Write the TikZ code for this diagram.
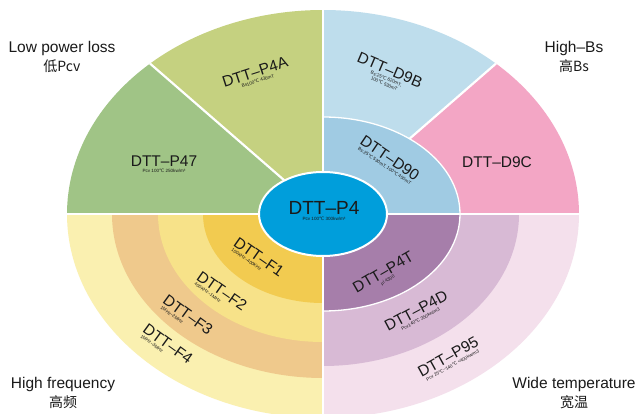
\documentclass[tikz,border=0pt]{standalone}
\usepackage{fontspec}
\setmainfont{Liberation Sans}
\newfontfamily\cjk{Noto Sans CJK SC}
\newfontfamily\dvs{DejaVu Sans}
\newcommand\dC{{\dvs ℃}}
\usetikzlibrary{calc}
\definecolor{cP47}{HTML}{A0C486}
\definecolor{cP4A}{HTML}{C5D180}
\definecolor{cD9B}{HTML}{BEDDEC}
\definecolor{cD9C}{HTML}{F3A6C5}
\definecolor{cD90}{HTML}{A0CBE3}
\definecolor{cP4}{HTML}{009EDB}
\definecolor{cF1}{HTML}{F2CB50}
\definecolor{cF2}{HTML}{F7E289}
\definecolor{cF3}{HTML}{EFC98C}
\definecolor{cF4}{HTML}{FAF0B0}
\definecolor{cP4T}{HTML}{A67EAA}
\definecolor{cP4D}{HTML}{D8BAD5}
\definecolor{cP95}{HTML}{F4E0EC}
\definecolor{ink}{HTML}{1A1A1A}
\begin{document}
\begin{tikzpicture}[x=1pt,y=1pt,
  wline/.style={draw=white,line width=2.2pt},
  warc/.style={draw=white,line width=1.3pt},
  lab/.style={font=\fontsize{15.5}{16}\selectfont,text=ink,inner sep=0pt},
  biglab/.style={font=\fontsize{19}{20}\selectfont,text=ink,inner sep=0pt},
  sub/.style={font=\fontsize{4.6}{5.2}\selectfont,text=ink,inner sep=0.5pt,outer sep=1.6pt,align=center},
  corner/.style={font=\fontsize{15.5}{18}\selectfont,text=ink,align=center,inner sep=0pt},
  cjkl/.style={font=\cjk\fontsize{14}{16}\selectfont,text=ink,inner sep=0pt}]
\useasboundingbox (0,0) rectangle (637,-414);
\fill[white] (0,0) rectangle (637,-414);
\coordinate (C) at (323,-214);
% top-left
\fill[cP4A] (C) -- ++(0,204) arc[start angle=90,end angle=132.5,x radius=256,y radius=204] -- cycle;
\fill[cP47] (C) -- ++(-256,0) arc[start angle=180,end angle=132.5,x radius=256,y radius=204] -- cycle;
% top-right
\fill[cD9B] (C) -- ++(0,204) arc[start angle=90,end angle=47.5,x radius=256,y radius=204] -- cycle;
\fill[cD9C] (C) -- ++(256,0) arc[start angle=0,end angle=47.5,x radius=256,y radius=204] -- cycle;
\coordinate (TL) at ($(C)+({256*cos(132.5)},{204*sin(132.5)})$);
\coordinate (TR) at ($(C)+({256*cos(47.5)},{204*sin(47.5)})$);
\draw[wline] (C) -- (TL);
\draw[wline] (C) -- (TR);
\fill[cD90] (C) -- ++(137,0) arc[start angle=0,end angle=90,x radius=137,y radius=97] -- cycle;
\draw[warc] (C) ++(137,0) arc[start angle=0,end angle=90,x radius=137,y radius=97];
% bottom-left
\fill[cF4] (C) -- ++(-256,0) arc[start angle=180,end angle=270,x radius=256,y radius=204] -- cycle;
\fill[cF3] (C) -- ++(-211,0) arc[start angle=180,end angle=270,x radius=211,y radius=164] -- cycle;
\fill[cF2] (C) -- ++(-165,0) arc[start angle=180,end angle=270,x radius=165,y radius=128] -- cycle;
\fill[cF1] (C) -- ++(-120,0) arc[start angle=180,end angle=270,x radius=120,y radius=89] -- cycle;
% bottom-right
\fill[cP95] (C) -- ++(0,-204) arc[start angle=270,end angle=360,x radius=256,y radius=204] -- cycle;
\fill[cP4D] (C) -- ++(0,-152) arc[start angle=270,end angle=360,x radius=196,y radius=152] -- cycle;
\fill[cP4T] (C) -- ++(0,-97) arc[start angle=270,end angle=360,x radius=137,y radius=97] -- cycle;
\draw[warc] (C) ++(0,-97) arc[start angle=270,end angle=360,x radius=137,y radius=97];
% dividers
\coordinate (L) at ($(C)+(-257,0)$);
\coordinate (R) at ($(C)+(257,0)$);
\coordinate (T) at ($(C)+(0,205)$);
\coordinate (B) at ($(C)+(0,-205)$);
\draw[wline] (L) -- (R);
\draw[draw=white,line width=2.8pt] (T) -- (B);
% centre
\fill[cP4,draw=white,line width=2pt] (C) ellipse[x radius=64,y radius=42];
\node[biglab] (p4) at (324,-208) {DTT–P4};
\node[sub,anchor=north] (p4s) at (p4.south) {Pcv 100\dC{} 300kw/m³};
% labels
\node[lab] (p47) at (164,-161) {DTT–P47};
\node[sub,anchor=north] (p47s) at (p47.south) {Pcv 100\dC{} 250kw/m³};
\node[lab,rotate=18] (p4a) at (255,-72) {DTT–P4A};
\node[sub,rotate=18,anchor=north] (p4as) at (p4a.south) {Bs100\dC{} 430mT};
\node[lab,rotate=-23] (d9b) at (390,-70) {DTT–D9B};
\node[sub,rotate=-23,anchor=north] (d9bs) at (d9b.south) {Bs:25\dC{} 620mT,\\100\dC{} 530mT};
\node[lab,rotate=-34] (d90) at (390,-158) {DTT–D90};
\node[sub,rotate=-34,anchor=north] (d90s) at (d90.south) {Bs:25\dC{} 530mT, 100\dC{} 450mT};
\node[lab] (d9c) at (497,-162) {DTT–D9C};
\node[lab,rotate=-35] (f1) at (259,-257) {DTT–F1};
\node[sub,rotate=-35,anchor=north west] (f1s) at (f1.south west) {100KHz\textasciitilde400KHz};
\node[lab,rotate=-35] (f2) at (222,-291) {DTT–F2};
\node[sub,rotate=-35,anchor=north west] (f2s) at (f2.south west) {400KHz\textasciitilde1MHz};
\node[lab,rotate=-36] (f3) at (188,-315) {DTT–F3};
\node[sub,rotate=-36,anchor=north west] (f3s) at (f3.south west) {1MHz\textasciitilde2MHz};
\node[lab,rotate=-36] (f4) at (168,-344) {DTT–F4};
\node[sub,rotate=-36,anchor=north west] (f4s) at (f4.south west) {1MHz\textasciitilde3MHz};
\node[lab,rotate=30] (p4t) at (383,-272) {DTT–P4T};
\node[sub,rotate=30,anchor=north] (p4ts) at (p4t.south) {μi 4300};
\node[lab,rotate=28] (p4d) at (416,-311) {DTT–P4D};
\node[sub,rotate=28,anchor=north] (p4ds) at (p4d.south) {Pcv140\dC{} 350kw/m3};
\node[lab,rotate=29] (p95) at (448,-357) {DTT–P95};
\node[sub,rotate=29,anchor=north] (p95s) at (p95.south) {Pcv 25\dC{}\textasciitilde140\dC{} <400kw/m3};
% corner labels
\node[corner] (lpl) at (62,-48) {Low power loss};
\node[cjkl] (lpc) at (62,-66) {低Pcv};
\node[corner] (hbs) at (574,-48) {High–Bs};
\node[cjkl] (hbc) at (574,-66) {高Bs};
\node[corner] (hf) at (63,-384) {High frequency};
\node[cjkl] (hfc) at (63,-402) {高频};
\node[corner] (wt) at (574,-384) {Wide temperature};
\node[cjkl] (wtc) at (574,-402) {宽温};
\end{tikzpicture}
\end{document}
